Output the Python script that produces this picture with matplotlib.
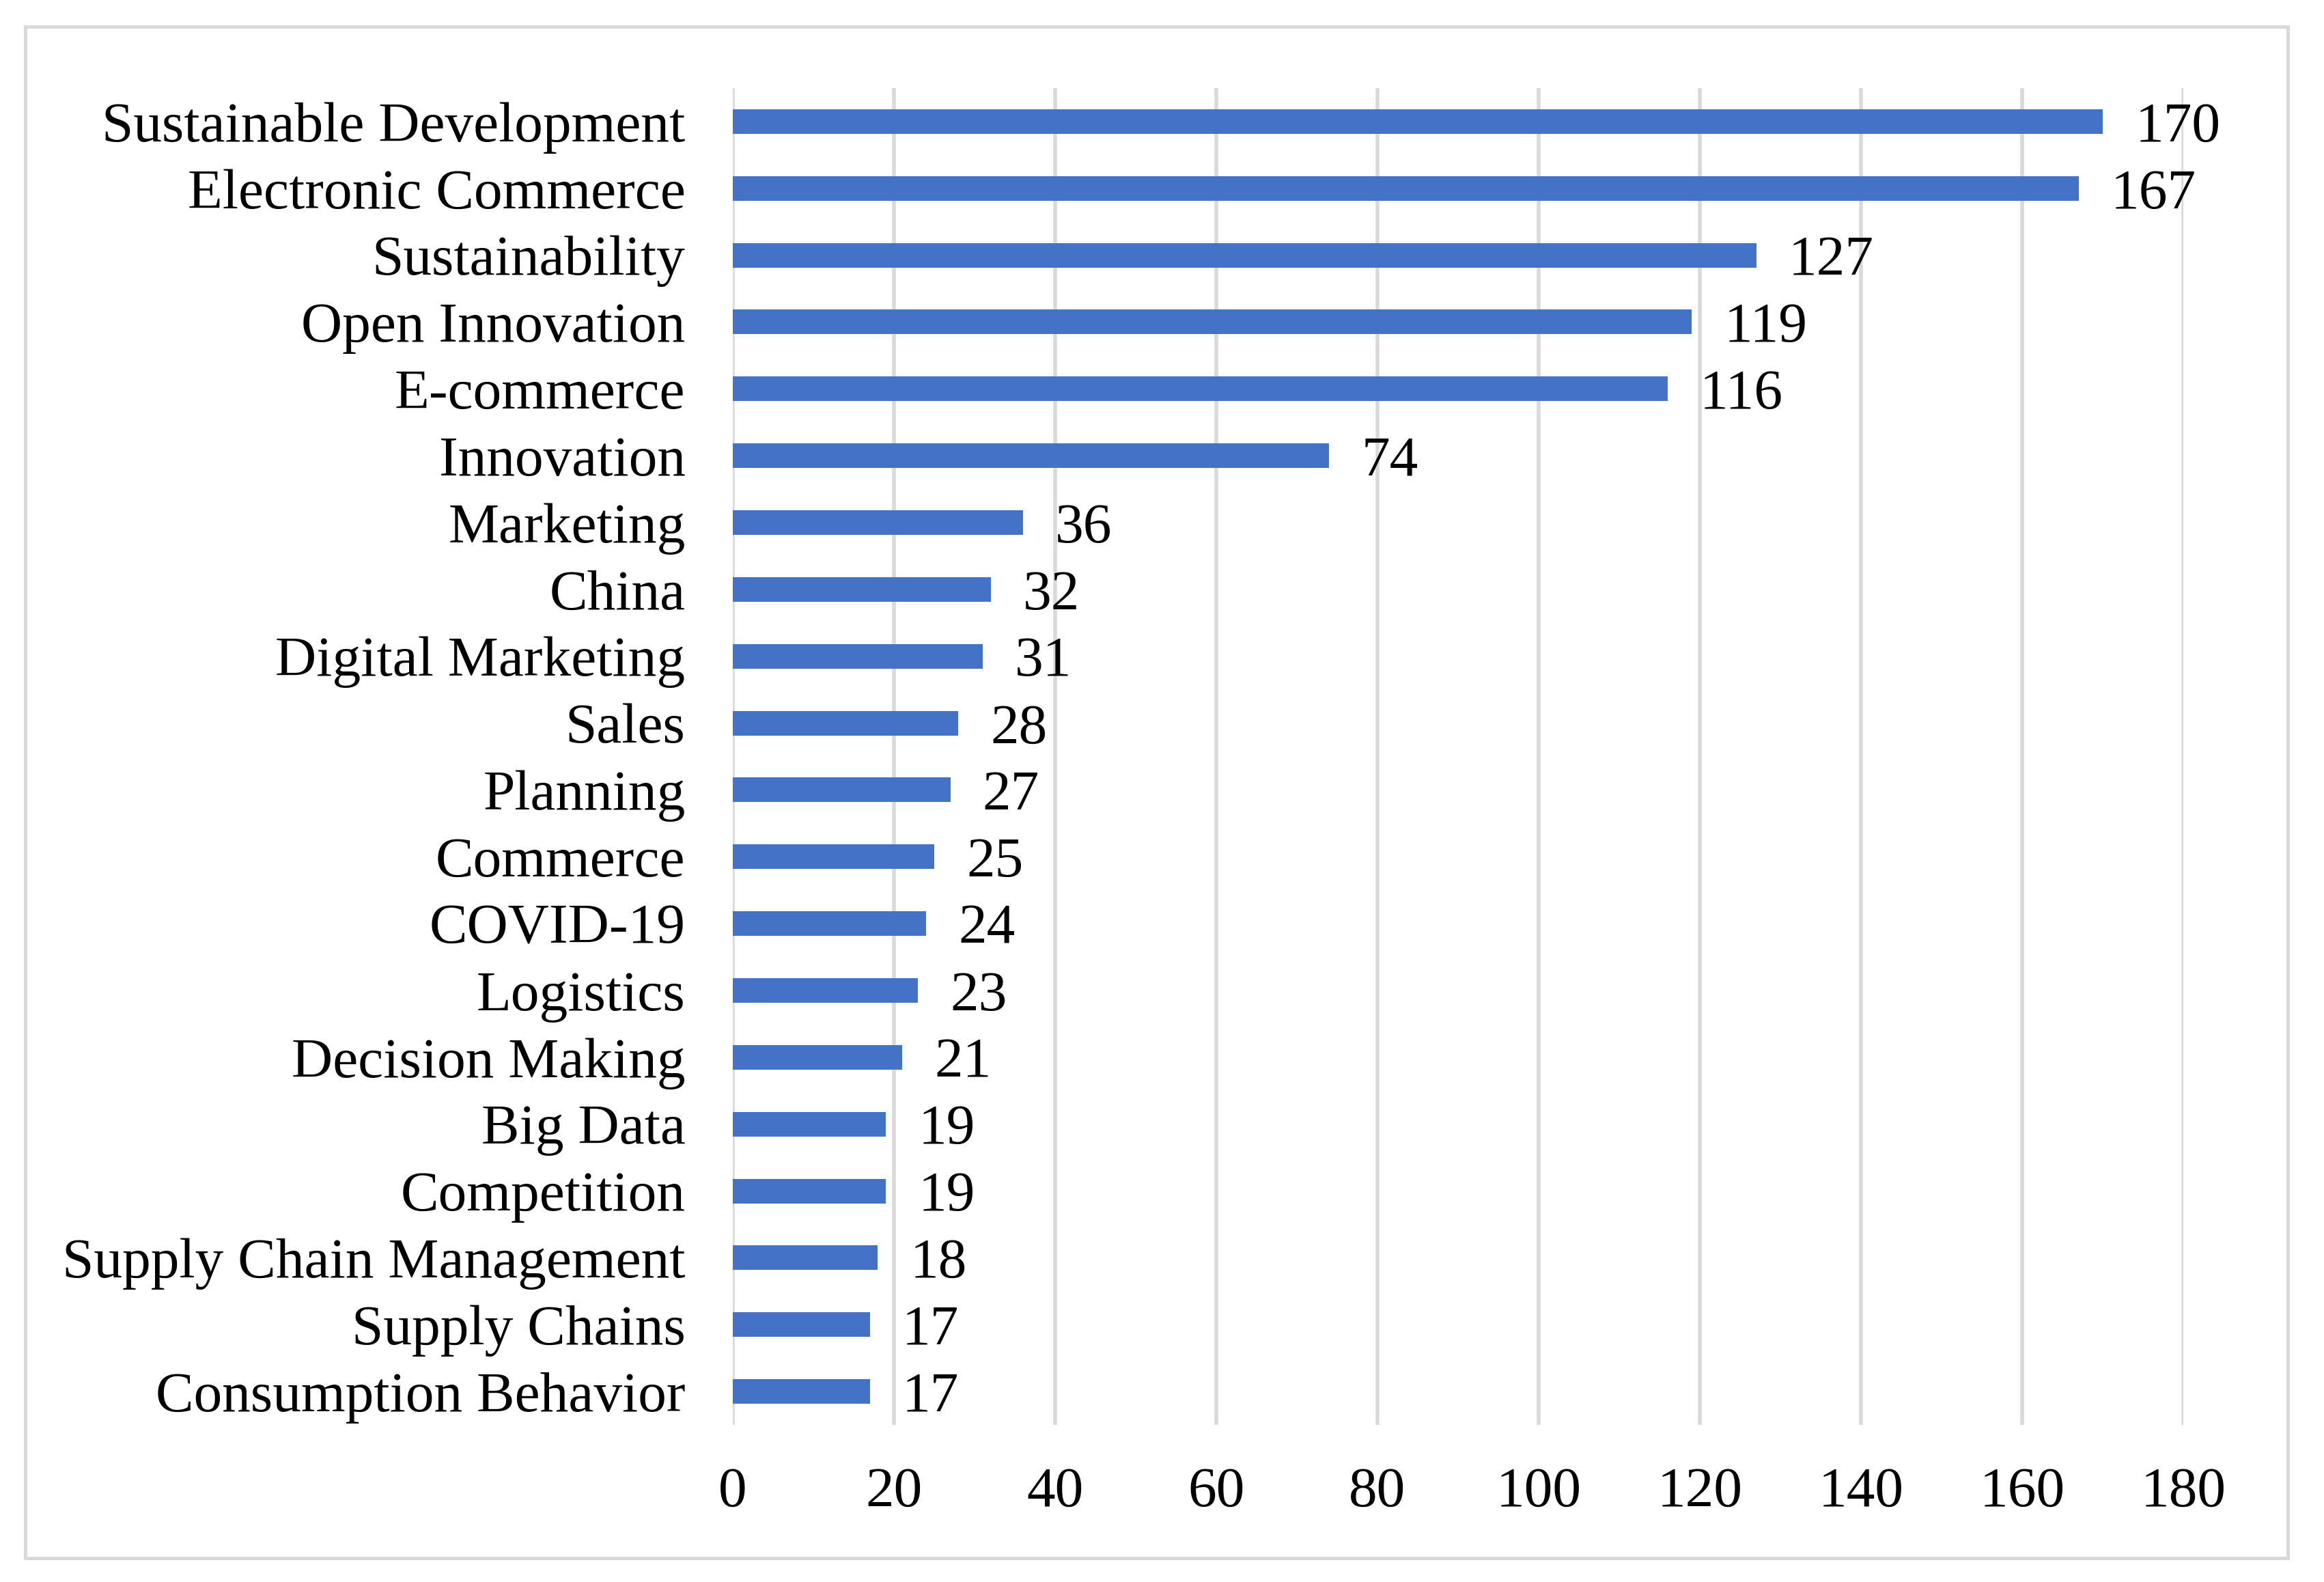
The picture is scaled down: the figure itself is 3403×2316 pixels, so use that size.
import matplotlib
matplotlib.use("Agg")
import matplotlib.pyplot as plt
from matplotlib.patches import Rectangle

categories = ["Sustainable Development", "Electronic Commerce", "Sustainability",
              "Open Innovation", "E-commerce", "Innovation", "Marketing", "China",
              "Digital Marketing", "Sales", "Planning", "Commerce", "COVID-19",
              "Logistics", "Decision Making", "Big Data", "Competition",
              "Supply Chain Management", "Supply Chains", "Consumption Behavior"]
values = [170, 167, 127, 119, 116, 74, 36, 32, 31, 28, 27, 25, 24, 23, 21, 19, 19, 18, 17, 17]
xticks = [0, 20, 40, 60, 80, 100, 120, 140, 160, 180]

plt.rcParams['font.family'] = ['Liberation Serif', 'DejaVu Serif']

W, H = 3403, 2316
dpi = 200
fig = plt.figure(figsize=(W / dpi, H / dpi), dpi=dpi)
fig.patch.set_facecolor('white')

left = 1073 / W
right = 3197 / W
top = 1 - 129 / H
bottom = 1 - 2086 / H
ax = fig.add_axes([left, bottom, right - left, top - bottom])

n = len(categories)
ypos = list(range(n))
ax.barh(ypos, values, height=0.368, color='#4472C4', zorder=3)
ax.set_ylim(n - 0.5, -0.5)
ax.set_xlim(0, 180)
ax.set_xticks(xticks)
ax.set_xticklabels([str(t) for t in xticks])
ax.set_yticks(ypos)
ax.set_yticklabels(categories)

ax.grid(axis='x', color='#D9D9D9', linewidth=2.0, zorder=0)
ax.grid(axis='y', visible=False)
for s in ax.spines.values():
    s.set_visible(False)
ax.tick_params(axis='both', length=0, labelsize=30)
ax.tick_params(axis='x', pad=22)
ax.tick_params(axis='y', pad=25)

for y, v in zip(ypos, values):
    ax.annotate(str(v), xy=(v, y), xytext=(17, 0), textcoords='offset points',
                ha='left', va='center_baseline', fontsize=30, zorder=4)

# outer chart border
x0 = 37 / W
x1 = 3350 / W
y0 = 1 - 2281 / H
y1 = 1 - 39 / H
fig.patches.append(Rectangle((x0, y0), x1 - x0, y1 - y0, transform=fig.transFigure,
                             fill=False, edgecolor='#D9D9D9', linewidth=1.8))

fig.savefig('out.png', dpi=dpi, facecolor='white')
